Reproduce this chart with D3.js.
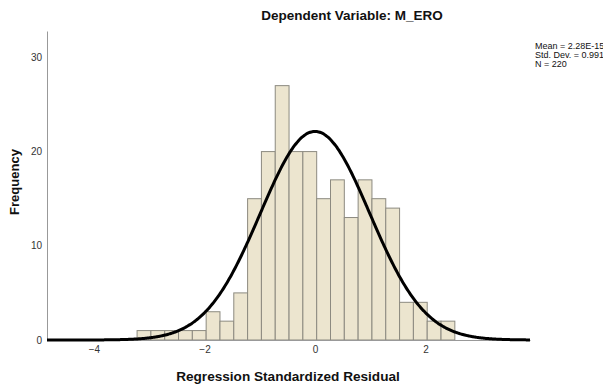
<!DOCTYPE html>
<html>
<head>
<meta charset="utf-8">
<script src="https://cdn.jsdelivr.net/npm/d3@7"></script>
<style>
  body { margin: 0; background: #fff; }
  text { font-family: "Liberation Sans", Arial, sans-serif; }
</style>
</head>
<body>
<svg id="chart" width="603" height="385"></svg>
<script>
// histogram bins of the standardized residuals
const binStart = -3.22;
const binWidth = 0.25;
const counts = [1, 1, 1, 1, 1, 3, 2, 5, 15, 20, 27, 20, 20, 15, 17, 13, 17, 15, 14, 4, 4, 2, 2];

const xTicks = [-4, -2, 0, 2];
const yTicks = [0, 10, 20, 30];
const statLines = ["Mean = 2.28E-15", "Std. Dev. = 0.991", "N = 220"];
const mean = 2.28e-15, sd = 0.991, n = 220;

let svg = d3.select("#chart");

let x = d3.scaleLinear().domain([-4.85, 3.89]).range([47, 530]);
let y = d3.scaleLinear().domain([0, 32.8]).range([340, 31]);

let bins = counts.map((c, i) => ({x0: binStart + i * binWidth, x1: binStart + (i + 1) * binWidth, count: c}));

// bars
svg.append("g").selectAll("rect").data(bins).enter().append("rect")
    .attr("x", d => x(d.x0))
    .attr("y", d => y(d.count))
    .attr("width", d => x(d.x1) - x(d.x0))
    .attr("height", d => y(0) - y(d.count))
    .style("fill", "#ece5cf")
    .style("stroke", "#8c8a80")
    .style("stroke-width", 1);

// axes
let yAxis = d3.axisLeft(y).tickValues(yTicks).tickSize(0).tickPadding(5);
svg.append("g").attr("transform", "translate(47,0)").call(yAxis)
    .call(g => g.select(".domain").attr("stroke", "#999"))
    .selectAll("text").style("font-size", "10px").style("fill", "#333");

let xAxis = d3.axisBottom(x).tickValues(xTicks).tickSize(0).tickPadding(6);
svg.append("g").attr("transform", "translate(0,340)").call(xAxis)
    .call(g => g.select(".domain").attr("stroke", "#999"))
    .selectAll("text").style("font-size", "10px").style("fill", "#333");

// normal curve
let pdf = v => Math.exp(-0.5 * Math.pow((v - mean) / sd, 2)) / (sd * Math.sqrt(2 * Math.PI));
let pts = d3.range(-4.85, 3.89, 0.02).concat([3.89]);
let line = d3.line().x(d => x(d)).y(d => y(n * binWidth * pdf(d))).curve(d3.curveBasis);
svg.append("path").datum(pts)
    .attr("d", line)
    .style("fill", "none")
    .style("stroke", "#000")
    .style("stroke-width", 3);

// titles
svg.append("text").attr("x", 352).attr("y", 20).attr("text-anchor", "middle")
    .style("font-size", "13.5px").style("font-weight", "bold").style("fill", "#111")
    .text("Dependent Variable: M_ERO");

svg.append("text").attr("x", 288).attr("y", 381).attr("text-anchor", "middle")
    .style("font-size", "13.6px").style("font-weight", "bold").style("fill", "#111")
    .text("Regression Standardized Residual");

svg.append("text").attr("transform", "translate(19,182) rotate(-90)").attr("text-anchor", "middle")
    .style("font-size", "13px").style("font-weight", "bold").style("fill", "#111")
    .text("Frequency");

// stats box
svg.append("g").selectAll("text").data(statLines).enter().append("text")
    .attr("x", 535)
    .attr("y", (d, i) => 49 + i * 9)
    .style("font-size", "9px").style("fill", "#111")
    .text(d => d);
</script>
</body>
</html>
